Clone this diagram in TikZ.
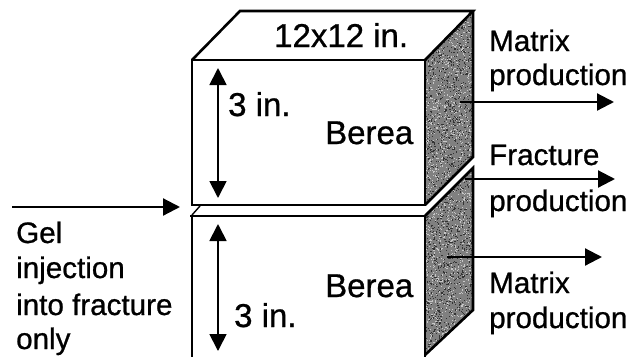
\documentclass[tikz,border=0pt]{standalone}
\usepackage{fontspec}
\usetikzlibrary{arrows.meta}
\setmainfont[FakeBold=0.8]{Liberation Sans}
\begin{document}
\begin{tikzpicture}[x=1pt,y=-1pt,
  edge/.style={line width=2.6pt,line join=miter},
  arr/.style={line width=2.2pt,-{Triangle[length=17pt,width=17pt]}},
  dim/.style={line width=1.8pt,{Triangle[length=17pt,width=17pt]}-{Triangle[length=17pt,width=17pt]}},
  lab/.style={inner sep=0pt,align=left,font=\fontsize{29.6}{33}\selectfont},
  big/.style={inner sep=0pt,font=\fontsize{33}{33}\selectfont}]
\useasboundingbox (0,0) rectangle (630,357);
\fill[white] (0,0) rectangle (630,357);
\pgfmathsetseed{4242}
% right faces
\coordinate (a1) at (425,60); \coordinate (a2) at (473,11); \coordinate (a3) at (473,157); \coordinate (a4) at (425,205);
\coordinate (b1) at (425,214); \coordinate (b2) at (473,170); \coordinate (b3) at (473,310); \coordinate (b4) at (425,355);
\begin{scope}
  \clip (a1)--(a2)--(a3)--(a4)--cycle (b1)--(b2)--(b3)--(b4)--cycle;
  \fill[black!50] (420,5) rectangle (480,357);
  \foreach \i in {1,...,1600}{
    \pgfmathsetmacro{\px}{425+48*rnd}\pgfmathsetmacro{\py}{11+345*rnd}
    \fill[black!22] (\px,\py) rectangle +(1.1,1.1);
  }
  \foreach \i in {1,...,1600}{
    \pgfmathsetmacro{\px}{425+48*rnd}\pgfmathsetmacro{\py}{11+345*rnd}
    \fill[black!80] (\px,\py) rectangle +(1.1,1.1);
  }
\end{scope}
% upper block
\draw[edge] (192,60) rectangle (425,205);
\draw[edge] (192,60) -- (240,11) -- (473,11) -- (425,60);
\draw[edge] (473,11) -- (473,157) -- (425,205);
% lower block
\draw[edge] (190,216) -- (425,216);
\draw[line width=1.6pt] (192,216) -- (192,357);
\draw[edge] (425,216) -- (425,357);
\draw[line width=1.4pt] (192,215) -- (200,206);
\draw[edge] (425,216) -- (473,168) -- (473,310) -- (425,355);
% labels
\node[big,anchor=base west] (top) at (274,47) {12x12 in.};
\node[big,anchor=base west] (d1) at (228,116) {3 in.};
\node[big,anchor=base west] (b1t) at (325,144) {Berea};
\node[big,anchor=base west] (b2t) at (325,297) {Berea};
\node[big,anchor=base west] (d2) at (234,327) {3 in.};
\node[lab,anchor=base west] (m1) at (489,51) {Matrix};
\node[lab,anchor=base west] (m1b) at (489,85) {production};
\node[lab,anchor=base west] (f1) at (489,165) {Fracture};
\node[lab,anchor=base west] (f1b) at (489,211) {production};
\node[lab,anchor=base west] (m2) at (489,293) {Matrix};
\node[lab,anchor=base west] (m2b) at (489,328) {production};
\node[lab,anchor=base west] (g1) at (16,243) {Gel};
\node[lab,anchor=base west] (g2) at (16,278) {injection};
\node[lab,anchor=base west] (g3) at (16,315) {into fracture};
\node[lab,anchor=base west] (g4) at (16,349) {only};
% arrows
\coordinate (g0) at (12,207); \coordinate (g9) at (180,207);
\draw[arr] (g0) -- (g9);
\coordinate (p0) at (460,102); \coordinate (p9) at (614,102);
\draw[arr] (p0) -- (p9);
\coordinate (q0) at (465,179); \coordinate (q9) at (615,179);
\draw[arr] (q0) -- (q9);
\coordinate (r0) at (447,257); \coordinate (r9) at (602,257);
\draw[arr] (r0) -- (r9);
\coordinate (u0) at (218,68); \coordinate (u9) at (218,198);
\draw[dim] (u0) -- (u9);
\coordinate (v0) at (218,224); \coordinate (v9) at (218,351);
\draw[dim] (v0) -- (v9);
\end{tikzpicture}
\end{document}
